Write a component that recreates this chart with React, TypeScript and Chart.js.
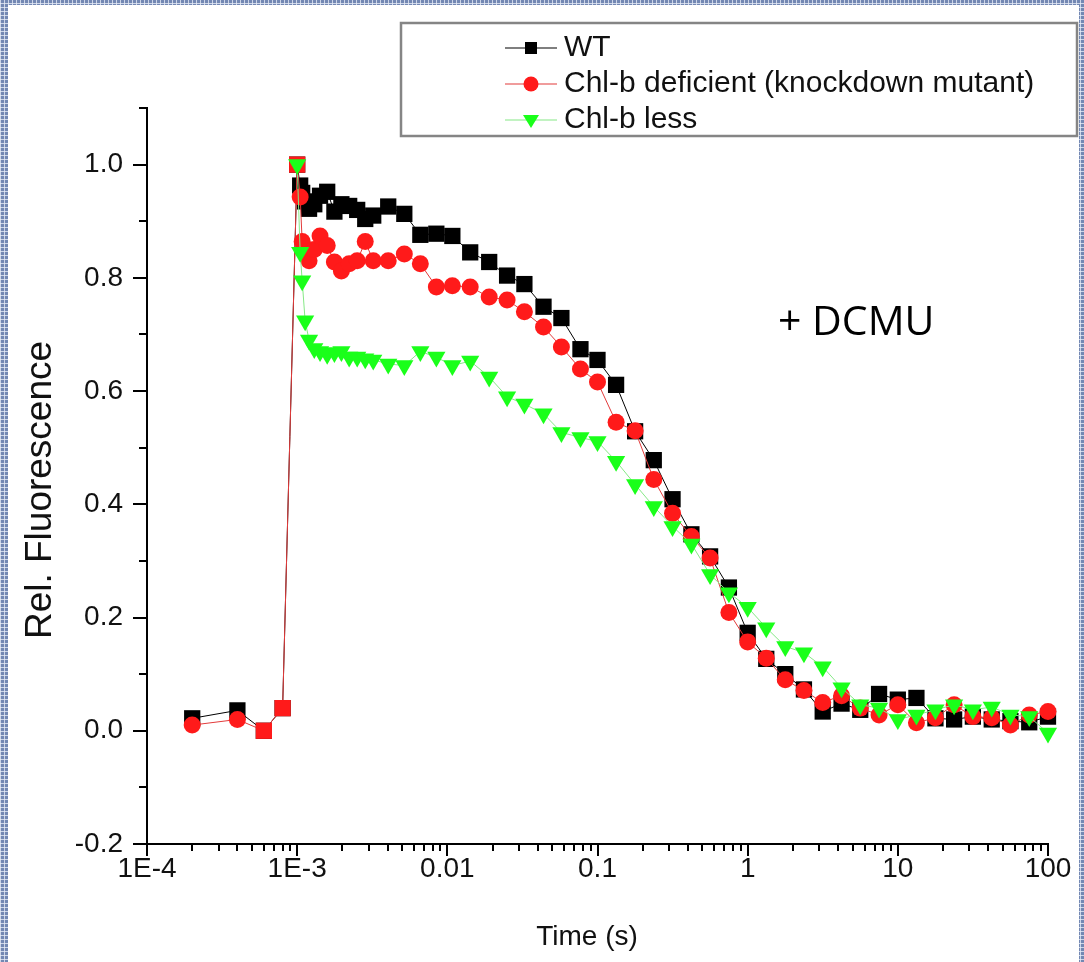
import React, { useEffect, useRef } from "react";
import { Chart, registerables } from "chart.js";

Chart.register(...registerables);

// ---------- data ----------
const timeSeconds = [
  2e-4, 4e-4, 6e-4, 8e-4,
  1.0e-3, 1.047e-3, 1.08e-3, 1.13e-3, 1.2e-3, 1.3e-3, 1.42e-3, 1.585e-3, 1.77e-3,
  1.97e-3, 2.22e-3, 2.51e-3, 2.84e-3, 3.21e-3, 4.04e-3, 5.17e-3, 6.61e-3, 8.45e-3,
  0.0108, 0.0142, 0.019, 0.025, 0.0326, 0.0437, 0.0575, 0.077,
  0.1, 0.133, 0.178, 0.237, 0.316, 0.422, 0.562, 0.75,
  1, 1.33, 1.78, 2.37, 3.16, 4.22, 5.62, 7.5,
  10, 13.3, 17.8, 23.7, 31.6, 42.2, 56.2, 75,
  100,
];

const wtFluorescence = [
  0.022, 0.036, 0.0, 0.04,
  1.0, 0.963, 0.95, 0.935, 0.922, 0.93, 0.945, 0.952, 0.917,
  0.93, 0.927, 0.92, 0.904, 0.91, 0.926, 0.913, 0.876, 0.878,
  0.874, 0.845, 0.828, 0.804, 0.789, 0.749, 0.729, 0.674,
  0.655, 0.611, 0.529, 0.478, 0.409, 0.347, 0.308, 0.253,
  0.173, 0.127, 0.1, 0.073, 0.034, 0.048, 0.037, 0.065,
  0.055, 0.058, 0.022, 0.02, 0.025, 0.02, 0.017, 0.015,
  0.025,
];

const chlbDeficientFluorescence = [
  0.01, 0.02, 0.0, 0.04,
  1.0, 0.943, 0.864, 0.845, 0.83, 0.85, 0.874, 0.857, 0.828,
  0.812, 0.825, 0.83, 0.864, 0.83, 0.83, 0.842, 0.825, 0.784,
  0.786, 0.784, 0.766, 0.761, 0.74, 0.713, 0.678, 0.639,
  0.616, 0.545, 0.53, 0.444, 0.384, 0.343, 0.305, 0.209,
  0.157, 0.128, 0.09, 0.071, 0.05, 0.062, 0.04, 0.028,
  0.046, 0.014, 0.023, 0.046, 0.025, 0.023, 0.01, 0.028,
  0.034,
];

const chlbLessFluorescence = [
  null, null, null, null,
  1.0, 0.845, 0.795, 0.724, 0.69, 0.675, 0.67, 0.665, 0.668,
  0.67, 0.66, 0.66, 0.657, 0.655, 0.648, 0.645, 0.67, 0.66,
  0.645, 0.653, 0.625, 0.59, 0.577, 0.56, 0.527, 0.518,
  0.511, 0.476, 0.435, 0.396, 0.361, 0.33, 0.276, 0.244,
  0.218, 0.182, 0.149, 0.138, 0.113, 0.076, 0.046, 0.04,
  0.02, 0.028, 0.037, 0.046, 0.037, 0.042, 0.028, 0.025,
  -0.004,
];

const seriesLabels = ["WT", "Chl-b deficient (knockdown mutant)", "Chl-b less"];
const xMajorTickValues = [1e-4, 1e-3, 0.01, 0.1, 1, 10, 100];
const xTickLabels = ["1E-4", "1E-3", "0.01", "0.1", "1", "10", "100"];
const yMajorTickValues = [-0.2, 0, 0.2, 0.4, 0.6, 0.8, 1.0];
const yMinorTickValues = [-0.1, 0.1, 0.3, 0.5, 0.7, 0.9, 1.1];
const xAxisTitle = "Time (s)";
const yAxisTitle = "Rel. Fluorescence";
const annotationText = "+ DCMU";

// ---------- styling ----------
const FONT = "'Liberation Sans', Arial, Helvetica, sans-serif";
const seriesStyles = [
  { line: "#000000", fill: "#000000", marker: "rect" },
  { line: "#e23a3a", fill: "#ff1a1a", marker: "circle" },
  { line: "#86e886", fill: "#1aff1a", marker: "triangleDown" },
];

function toPoints(values: (number | null)[]) {
  const pts: { x: number; y: number }[] = [];
  values.forEach((v, i) => {
    if (v !== null) pts.push({ x: timeSeconds[i], y: v });
  });
  return pts;
}

function drawLegendMarker(ctx: CanvasRenderingContext2D, kind: string, x: number, y: number, color: string) {
  ctx.fillStyle = color;
  ctx.beginPath();
  if (kind === "rect") {
    ctx.rect(x - 6, y - 6, 12, 12);
  } else if (kind === "circle") {
    ctx.arc(x, y, 7.5, 0, Math.PI * 2);
  } else {
    ctx.moveTo(x - 8, y - 5);
    ctx.lineTo(x + 8, y - 5);
    ctx.lineTo(x, y + 8);
    ctx.closePath();
  }
  ctx.fill();
}

const decorPlugin = {
  id: "decor",
  afterDraw(chart: any) {
    const { ctx, chartArea } = chart;
    const xs = chart.scales.x;
    const ys = chart.scales.y;
    ctx.save();
    // tick marks
    ctx.strokeStyle = "#000";
    ctx.lineWidth = 2;
    ctx.beginPath();
    for (const v of yMajorTickValues) {
      const p = Math.round(ys.getPixelForValue(v));
      ctx.moveTo(chartArea.left - 14, p);
      ctx.lineTo(chartArea.left, p);
    }
    for (const v of yMinorTickValues) {
      const p = Math.round(ys.getPixelForValue(v));
      ctx.moveTo(chartArea.left - 8, p);
      ctx.lineTo(chartArea.left, p);
    }
    for (let i = 0; i < xMajorTickValues.length; i++) {
      const dec = xMajorTickValues[i];
      const p = Math.round(xs.getPixelForValue(dec));
      ctx.moveTo(p, chartArea.bottom);
      ctx.lineTo(p, chartArea.bottom + 12);
      if (i < xMajorTickValues.length - 1) {
        for (let k = 2; k <= 9; k++) {
          const q = Math.round(xs.getPixelForValue(k * dec));
          ctx.moveTo(q, chartArea.bottom);
          ctx.lineTo(q, chartArea.bottom + 7);
        }
      }
    }
    ctx.stroke();

    // axis titles
    ctx.fillStyle = "#111";
    ctx.textAlign = "center";
    ctx.textBaseline = "middle";
    ctx.font = `28px ${FONT}`;
    ctx.fillText(xAxisTitle, 587, 937);
    ctx.save();
    ctx.translate(41, 490);
    ctx.rotate(-Math.PI / 2);
    ctx.font = `37px ${FONT}`;
    ctx.fillText(yAxisTitle, 0, 0);
    ctx.restore();

    // annotation
    ctx.textAlign = "left";
    ctx.font = `41px 'Open Sans', 'Noto Sans', sans-serif`;
    ctx.fillStyle = "#000";
    ctx.fillText(annotationText, 778, 323);

    // legend
    ctx.strokeStyle = "#858585";
    ctx.lineWidth = 2.5;
    ctx.strokeRect(401, 23, 676, 113);
    const rows = [48, 84, 120];
    seriesLabels.forEach((label, i) => {
      const st = seriesStyles[i];
      const y = rows[i];
      ctx.strokeStyle = st.line;
      ctx.lineWidth = 1.2;
      ctx.beginPath();
      ctx.moveTo(505, y);
      ctx.lineTo(557, y);
      ctx.stroke();
      drawLegendMarker(ctx, st.marker, 531, y, st.fill);
      ctx.fillStyle = "#111";
      ctx.font = `30px ${FONT}`;
      ctx.textAlign = "left";
      ctx.textBaseline = "middle";
      ctx.fillText(label, 564, y);
    });
    ctx.restore();
  },
};

export default function App() {
  const canvasRef = useRef<HTMLCanvasElement | null>(null);

  useEffect(() => {
    document.body.style.margin = "0";
    const canvas = canvasRef.current;
    if (!canvas) return;

    const datasets = [
      {
        label: seriesLabels[0],
        data: toPoints(wtFluorescence),
        borderColor: seriesStyles[0].line,
        backgroundColor: seriesStyles[0].fill,
        pointBackgroundColor: seriesStyles[0].fill,
        pointBorderColor: seriesStyles[0].fill,
        pointBorderWidth: 0,
        pointStyle: "rect",
        pointRadius: 11.5,
        borderWidth: 1,
        order: 2,
        clip: false,
      },
      {
        label: seriesLabels[1],
        data: toPoints(chlbDeficientFluorescence),
        borderColor: seriesStyles[1].line,
        backgroundColor: seriesStyles[1].fill,
        pointBackgroundColor: seriesStyles[1].fill,
        pointBorderColor: seriesStyles[1].fill,
        pointBorderWidth: 0,
        pointStyle: (c: any) => (c.dataIndex >= 2 && c.dataIndex <= 4 ? "rect" : "circle"),
        pointRadius: (c: any) => (c.dataIndex >= 2 && c.dataIndex <= 4 ? 11.5 : 8.5),
        borderWidth: 1,
        order: 1,
        clip: false,
      },
      {
        label: seriesLabels[2],
        data: toPoints(chlbLessFluorescence),
        borderColor: seriesStyles[2].line,
        backgroundColor: seriesStyles[2].fill,
        pointBackgroundColor: seriesStyles[2].fill,
        pointBorderColor: seriesStyles[2].fill,
        pointBorderWidth: 0,
        pointStyle: "triangle",
        pointRotation: 180,
        pointRadius: 10.5,
        borderWidth: 1,
        order: 0,
        clip: false,
      },
    ];

    const chart = new Chart(canvas, {
      type: "line",
      data: { datasets: datasets as any },
      options: {
        responsive: false,
        maintainAspectRatio: false,
        devicePixelRatio: 1,
        animation: false,
        events: [],
        layout: { padding: { top: 108, right: 36, left: 0, bottom: 0 } },
        elements: { line: { tension: 0 } },
        plugins: {
          legend: { display: false },
          tooltip: { enabled: false },
        },
        scales: {
          x: {
            type: "logarithmic",
            position: "bottom",
            min: 1e-4,
            max: 100,
            afterBuildTicks: (scale: any) => {
              scale.ticks = xMajorTickValues.map((v) => ({ value: v, major: true }));
            },
            afterFit: (scale: any) => {
              scale.height = 118;
            },
            ticks: {
              autoSkip: false,
              maxRotation: 0,
              minRotation: 0,
              padding: 6,
              color: "#111",
              font: { family: FONT, size: 28 },
              callback: (_v: any, i: number) => xTickLabels[i],
            },
            grid: { display: false, drawTicks: true, tickLength: 2 },
            border: { display: true, color: "#000", width: 2 },
          },
          y: {
            type: "linear",
            min: -0.2,
            max: 1.1,
            afterBuildTicks: (scale: any) => {
              scale.ticks = yMajorTickValues.map((v) => ({ value: v }));
            },
            afterFit: (scale: any) => {
              scale.width = 147;
            },
            ticks: {
              autoSkip: false,
              padding: 10,
              color: "#111",
              font: { family: FONT, size: 28 },
              callback: (v: any) => Number(v).toFixed(1),
            },
            grid: { display: false, drawTicks: true, tickLength: 14 },
            border: { display: true, color: "#000", width: 2 },
          },
        },
      },
      plugins: [decorPlugin],
    });

    return () => chart.destroy();
  }, []);

  return (
    <div
      style={{
        position: "relative",
        width: 1084,
        height: 962,
        overflow: "hidden",
        backgroundColor: "#7388b3",
        backgroundImage:
          "linear-gradient(90deg, rgba(235,240,250,0.75) 1px, transparent 1px), linear-gradient(0deg, rgba(235,240,250,0.75) 1px, transparent 1px)",
        backgroundSize: "4px 4px",
      }}
    >
      <div style={{ position: "absolute", left: 8, top: 5, right: 5, bottom: 0, background: "#ffffff" }} />
      <canvas
        ref={canvasRef}
        width={1084}
        height={962}
        style={{ position: "absolute", left: 0, top: 0, width: 1084, height: 962 }}
      />
    </div>
  );
}
